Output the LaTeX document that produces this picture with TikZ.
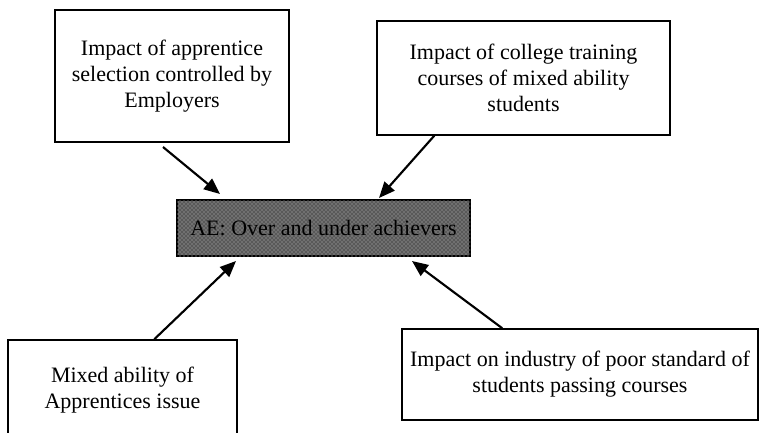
\documentclass[tikz,border=0pt]{standalone}
\usepackage{fontspec}
\setmainfont{Liberation Serif}
\usetikzlibrary{arrows.meta,patterns}
\begin{document}
\begin{tikzpicture}[x=0.75pt,y=-0.75pt,
    factor/.style={draw,line width=1.1pt,align=center,inner sep=0pt,
      font=\fontsize{16.5}{19.5}\selectfont},
    feed/.style={line width=1.6pt,-{Triangle[length=12pt,width=10pt]}}]
    \useasboundingbox (0,0) rectangle (759,432);
    \node[factor,minimum width=175.5pt,minimum height=99pt] (emp) at (172,76)
      {Impact of apprentice\\selection controlled by\\Employers};
    \node[factor,minimum width=219.75pt,minimum height=85.5pt] (col) at (523.5,78)
      {Impact of college training\\courses of mixed ability\\students};
    \node[factor,fill=black!65,minimum width=219.75pt,minimum height=42pt,
      postaction={pattern=crosshatch dots,pattern color=white!75!black}] (ae) at (323.5,228)
      {AE: Over and under achievers};
    \node[factor,minimum width=171.75pt,minimum height=75pt] (mix) at (122.5,390)
      {Mixed ability of\\Apprentices issue};
    \node[factor,minimum width=267pt,minimum height=68.25pt] (ind) at (580,374.5)
      {Impact on industry of poor standard of\\students passing courses};
    % arrow ends
    \coordinate (e1) at (163,147);
    \coordinate (t1) at (220,194);
    \coordinate (t2) at (379,198);
    \coordinate (t3) at (236,261);
    \coordinate (t4) at (412,261);
    \draw[feed] (e1) -- (t1);
    \draw[feed] (col.south west) ++(58,0) -- (t2);
    \draw[feed] (mix.north west) ++(147,0) -- (t3);
    \draw[feed] (ind.north west) ++(101,0) -- (t4);
\end{tikzpicture}
\end{document}
